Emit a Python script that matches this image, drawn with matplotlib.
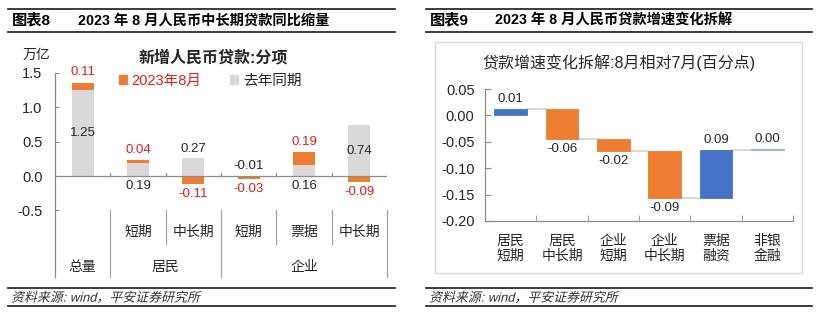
import matplotlib
matplotlib.use('Agg')
import matplotlib.pyplot as plt
import matplotlib.transforms as mtransforms
from matplotlib.lines import Line2D
from matplotlib.patches import Rectangle, Patch, PathPatch
from matplotlib.textpath import TextPath
from matplotlib.font_manager import FontProperties
import numpy as np

plt.rcParams['font.family'] = ['Liberation Sans', 'Noto Sans CJK SC', 'DejaVu Sans']
plt.rcParams['axes.unicode_minus'] = False

# ---------------- data ----------------
# left chart: new RMB loans by item (trillion yuan)
left_sub_labels = ['', '短期', '中长期', '短期', '票据', '中长期']
left_group_names = ['总量', '居民', '企业']
left_group_spans = [(0, 0), (1, 2), (3, 5)]
aug_2023 = [0.11, 0.04, -0.11, -0.03, 0.19, -0.09]
same_period_last_year = [1.25, 0.19, 0.27, -0.01, 0.16, 0.74]
left_yticks = [-0.5, 0.0, 0.5, 1.0, 1.5]
# where the grey labels sit (Excel label placement)
grey_label_mode = ['center', 'below0', 'top', 'above0', 'below0', 'center']

# right chart: loan growth change decomposition (pct points)
right_labels = ['居民\n短期', '居民\n中长期', '企业\n短期', '企业\n中长期', '票据\n融资', '非银\n金融']
right_values = [0.012, -0.057, -0.023, -0.088, 0.091, 0.001]
right_yticks = [-0.20, -0.15, -0.10, -0.05, 0.00, 0.05]

source_text = '资料来源: wind，平安证券研究所'

# ---------------- styles ----------------
ORANGE = '#ED7D31'
GREY = '#D9D9D9'
BLUE = '#4472C4'
LIGHTBLUE = '#8FAADC'
RED = '#E0201B'
AXC = '#8C8C8C'
TXT = '#262626'
right_colors = [BLUE, ORANGE, ORANGE, ORANGE, BLUE, LIGHTBLUE]

W, H = 824, 323
fig = plt.figure(figsize=(W / 100, H / 100), dpi=100)


def fx(x):
    return x / W


def fy(y):
    return 1 - y / H


def hline(x0, x1, y, lw=1.2, color='#1a1a1a'):
    fig.add_artist(Line2D([fx(x0), fx(x1)], [fy(y), fy(y)], transform=fig.transFigure,
                          color=color, lw=lw))


def slanted_text(xpix, ypix_center, s, size, color):
    fp = FontProperties(family=['Liberation Sans', 'Noto Sans CJK SC'], size=size)
    try:
        tp = TextPath((0, 0), s, prop=fp)
        base_y = H - ypix_center - size * 100 / 72 * 0.36
        tr = (mtransforms.Affine2D().skew_deg(14, 0).scale(100 / 72)
              .translate(xpix, base_y))
        patch = PathPatch(tp, transform=tr, facecolor=color, edgecolor='none', lw=0)
        fig.add_artist(patch)
    except Exception:
        fig.text(fx(xpix), fy(ypix_center), s, fontsize=size, style='italic', va='center', ha='left',
                 color=color)


# ---------------- headers / footers ----------------
for (x0, x1, tag, tx, title) in [(8, 395, '图表8', 78, '2023 年 8 月人民币中长期贷款同比缩量'),
                                 (426, 812, '图表9', 495, '2023 年 8 月人民币贷款增速变化拆解')]:
    hline(x0, x1, 9)
    hline(x0, x1, 32)
    fig.text(fx(x0 + 4), fy(20.5), tag, fontsize=11, fontweight='bold', va='center', ha='left', color='black')
    fig.text(fx(tx), fy(20.5), title, fontsize=10.3, fontweight='bold', va='center', ha='left', color='black')
    hline(x0, x1, 288)
    hline(x0, x1, 306)
    slanted_text(x0 + 3, 297, source_text, 9.3, '#333333')

# ---------------- left chart ----------------
ax1 = fig.add_axes([fx(55), fy(210.4), fx(387) - fx(55), (210.4 - 73) / H])
x = np.arange(len(aug_2023))
grey = np.array(same_period_last_year)
org = np.array(aug_2023)
bw = 0.4
ax1.bar(x, grey, width=bw, color=GREY, label='去年同期', zorder=2)
org_bottom = np.where(np.sign(org) == np.sign(grey), grey, 0.0)
ax1.bar(x, org, bottom=org_bottom, width=bw, color=ORANGE, label='2023年8月', zorder=3)

ax1.set_xlim(-0.5, 5.5)
ax1.set_ylim(-0.5, 1.5)
ax1.set_yticks(left_yticks)
ax1.set_yticklabels(['%.1f' % v for v in left_yticks], fontsize=10.5, color=TXT)
ax1.tick_params(axis='y', direction='in', length=3, color=AXC, pad=9)
ax1.set_xticks([])
for s in ['top', 'right', 'bottom', 'left']:
    ax1.spines[s].set_visible(False)
ax1.patch.set_alpha(0)
ax1.axhline(0, color=AXC, lw=0.9, zorder=4)

bt = mtransforms.blended_transform_factory(ax1.transData, ax1.transAxes)
# left spine extended down through category label area
ax1.add_artist(Line2D([0, 0], [-0.485, 1], transform=ax1.transAxes, color=AXC, lw=0.9, clip_on=False))
full_div = [0.5, 2.5, 5.5]
short_div = [1.5, 3.5, 4.5]
for d in full_div:
    ax1.add_artist(Line2D([d, d], [-0.485, 0], transform=bt, color='#A6A6A6', lw=0.9, clip_on=False))
for d in short_div:
    ax1.add_artist(Line2D([d, d], [-0.245, 0], transform=bt, color='#A6A6A6', lw=0.9, clip_on=False))
for d in full_div + short_div:
    ax1.plot([d, d], [0, 0.045], color=AXC, lw=0.9, zorder=4)

for i, lab in enumerate(left_sub_labels):
    if lab:
        ax1.text(i, -0.157, lab, transform=bt, ha='center', va='center', fontsize=10, color=TXT)
for name, (a, b) in zip(left_group_names, left_group_spans):
    ax1.text((a + b) / 2, -0.41, name, transform=bt, ha='center', va='center', fontsize=10, color=TXT)

# grey labels
for i, (v, mode) in enumerate(zip(grey, grey_label_mode)):
    s = '%.2f' % v
    if mode == 'center':
        ax1.annotate(s, (i, v / 2), ha='center', va='center', fontsize=9.5, color=TXT, zorder=5)
    elif mode == 'top':
        ax1.annotate(s, (i, v), xytext=(0, 1.5), textcoords='offset points', ha='center', va='bottom',
                     fontsize=9.5, color=TXT)
    elif mode == 'below0':
        ax1.annotate(s, (i, 0), xytext=(0, -3), textcoords='offset points', ha='center', va='top',
                     fontsize=9.5, color=TXT)
    elif mode == 'above0':
        ax1.annotate(s, (i, 0), xytext=(0, 3), textcoords='offset points', ha='center', va='bottom',
                     fontsize=9.5, color=TXT)
# red labels
for i, v in enumerate(org):
    s = '%.2f' % v
    if v >= 0:
        ax1.annotate(s, (i, org_bottom[i] + v), xytext=(0, 3), textcoords='offset points',
                     ha='center', va='bottom', fontsize=9.5, color=RED)
    else:
        ax1.annotate(s, (i, org_bottom[i] + v), xytext=(0, -3), textcoords='offset points',
                     ha='center', va='top', fontsize=9.5, color=RED)

fig.text(fx(213), fy(57), '新增人民币贷款:分项', fontsize=11.5, fontweight='bold', ha='center', va='center',
         color=TXT)
fig.text(fx(36), fy(55), '万亿', fontsize=10, ha='center', va='center', color=TXT)

handles = [Patch(color=ORANGE), Patch(color=GREY)]
leg = fig.legend(handles, ['2023年8月', '去年同期'], loc='center', ncol=2, frameon=False,
                 bbox_to_anchor=(fx(210), fy(81)), fontsize=10.5, handlelength=0.55, handleheight=0.55,
                 handletextpad=0.3, columnspacing=2.0)
leg.get_texts()[0].set_color(RED)
leg.get_texts()[1].set_color(TXT)

# ---------------- right chart ----------------
fig.add_artist(Rectangle((fx(435), fy(273)), fx(802) - fx(435), (273 - 42) / H, transform=fig.transFigure,
                         fill=False, edgecolor='#D9D9D9', lw=1))
ax2 = fig.add_axes([fx(485), fy(221), fx(793) - fx(485), (221 - 89) / H])
vals = np.array(right_values)
cum_before = np.concatenate([[0], np.cumsum(vals)[:-1]])
cum_after = np.cumsum(vals)
xr = np.arange(len(vals))
bw2 = 0.64
ax2.bar(xr, vals, bottom=cum_before, width=bw2, color=right_colors, edgecolor=right_colors, lw=0.6, zorder=3)
for i in range(len(vals) - 1):
    ax2.plot([i + bw2 / 2, i + 1 - bw2 / 2], [cum_after[i], cum_after[i]], color='#D9D9D9', lw=1.5, zorder=2)
for i, v in enumerate(vals):
    top = max(cum_before[i], cum_after[i])
    bot = min(cum_before[i], cum_after[i])
    s = '%.2f' % v
    if s == '-0.00':
        s = '0.00'
    if v >= 0:
        ax2.annotate(s, (i, top), xytext=(0, 3), textcoords='offset points', ha='center', va='bottom',
                     fontsize=9.5, color=TXT)
    else:
        ax2.annotate(s, (i, bot), xytext=(0, -3), textcoords='offset points', ha='center', va='top',
                     fontsize=9.5, color=TXT)

ax2.set_xlim(-0.5, 5.5)
ax2.set_ylim(-0.20, 0.05)
ax2.set_yticks(right_yticks)
ax2.set_yticklabels(['%.2f' % v for v in right_yticks], fontsize=10.5, color=TXT)
ax2.tick_params(axis='y', direction='in', length=4, color=AXC, pad=7.5)
ax2.set_xticks(xr)
ax2.set_xticklabels(right_labels, fontsize=10, color=TXT, linespacing=1.15)
ax2.set_xticks(np.arange(len(vals)) + 0.5, minor=True)
ax2.tick_params(axis='x', which='major', length=0, pad=9)
ax2.tick_params(axis='x', which='minor', direction='in', length=4, color=AXC)
for s in ['top', 'right']:
    ax2.spines[s].set_visible(False)
for s in ['left', 'bottom']:
    ax2.spines[s].set_color(AXC)
    ax2.spines[s].set_linewidth(0.9)
ax2.patch.set_alpha(0)
fig.text(fx(619), fy(63), '贷款增速变化拆解:8月相对7月(百分点)', fontsize=11.5, ha='center', va='center',
         color=TXT)

fig.savefig('out.png', dpi=100)
